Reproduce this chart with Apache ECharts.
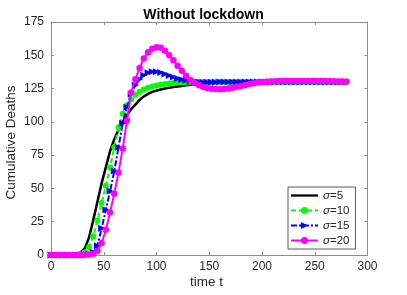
<!DOCTYPE html>
<html>
<head>
<meta charset="utf-8">
<script src="https://cdn.jsdelivr.net/npm/echarts@6/dist/echarts.min.js"></script>
<style>html,body{margin:0;padding:0;background:#fff}#c{width:407px;height:295px}</style>
</head>
<body>
<div id="c"></div>
<script>
// time points
var T = [0,4,8,12,16,20,24,28,32,36,40,44,48,52,56,60,64,68,72,76,80,84,88,92,96,100,104,108,112,116,120,124,128,132,136,140,144,148,152,156,160,164,168,172,176,180,184,188,192,196,200,204,208,212,216,220,224,228,232,236,240,244,248,252,256,260,264,268,272,276,280];
var seriesNames = ['σ=5','σ=10','σ=15','σ=20'];
var sigma5 = [0,0,0,0,0.1,0.3,0.8,2,5,13,26,40,54,66,78,87,94,100,105,109.5,113,116.5,119,121,122.5,123.5,124.3,125,125.6,126.1,126.6,127,127.4,127.8,128.1,128.4,128.7,128.9,129.1,129.3,129.4,129.5,129.6,129.7,129.8,129.8,129.9,129.9,130,130,130,130,130,130,130,130,130,130,130,130,130,130,130,130,130,130,130,130,130,130,130];
var sigma10 = [0,0,0,0,0,0,0,0.5,2,6,14,26,39,52,66,81,96,106,112.5,117,120.3,122.6,124.3,125.6,126.6,127.4,128,128.5,128.9,129.2,129.5,129.7,129.9,130,130,130,130,130,130,130,130,130,130,130,130,130,130,130,130,130,130,130,130,130,130,130,130,130,130,130,130,130,130,130,130,130,130,130,130,130,130];
var sigma15 = [0,0,0,0,0,0,0,0,0,0.5,2,7,20,34,48,63,81,99,111,121,127.5,132,135,136.8,137.6,137.6,137,136,134.8,133.6,132.6,131.8,131.2,130.7,130.3,130,129.8,129.7,129.7,129.8,129.9,130,130,130,130,130,130,130,130,130,130,130,130,130,130,130,130,130,130,130,130,130,130,130,130,130,130,130,130,130,130];
var sigma20 = [0,0,0,0,0,0,0,0,0,0.3,1,3,9,19,32,46,62,80,101,122,132,140.5,147.5,152.3,155,156,155.6,153.5,150,146.2,142.2,138.3,134.6,131.5,129.2,127.6,126.4,125.5,124.9,124.6,124.5,124.6,125,125.6,126.3,127,127.7,128.4,129,129.5,129.9,130.2,130.4,130.5,130.6,130.6,130.6,130.6,130.6,130.6,130.6,130.6,130.6,130.6,130.6,130.6,130.5,130.5,130.4,130.4,130.3];
var xTicks = [0,50,100,150,200,250,300];
var yTicks = [0,25,50,75,100,125,150,175];

function pairs(v){ return T.map(function(t,i){ return [t, v[i]]; }); }

var FONT = "'Liberation Sans', Arial, Helvetica, sans-serif";
var AX = '#8c8c8c', TXT = '#262626';

var chart = echarts.init(document.getElementById('c'), null, {renderer:'canvas'});
function baseX(pos, show){
  return {type:'value', position:pos, min:xTicks[0], max:xTicks[xTicks.length-1], interval:50,
    axisLine:{show:true, onZero:false, lineStyle:{color:AX, width:1}},
    axisTick:{show:true, inside:true, length:3, lineStyle:{color:AX}},
    axisLabel:{show:show, color:TXT, fontSize:12, fontFamily:FONT, margin:6},
    splitLine:{show:false}};
}
function baseY(pos, show){
  return {type:'value', position:pos, min:yTicks[0], max:yTicks[yTicks.length-1], interval:25,
    axisLine:{show:true, onZero:false, lineStyle:{color:AX, width:1}},
    axisTick:{show:true, inside:true, length:3, lineStyle:{color:AX}},
    axisLabel:{show:show, color:TXT, fontSize:12, fontFamily:FONT, margin:7},
    splitLine:{show:false}};
}
var rich = {i:{fontStyle:'italic', fontSize:11.5, fontFamily:FONT, color:TXT}, n:{fontSize:11.5, fontFamily:FONT, color:TXT}};
chart.setOption({
  animation:false,
  backgroundColor:'#fff',
  title:{text:'Without lockdown', left:198.5, top:3, textAlign:'center',
    textStyle:{fontSize:14, fontWeight:'bold', color:'#000', fontFamily:FONT}},
  grid:{left:51, right:39.5, top:22, bottom:40, containLabel:false},
  xAxis:[baseX('bottom', true), baseX('top', false)],
  yAxis:[baseY('left', true), baseY('right', false)],
  legend:{orient:'vertical', left:288, top:187,
    backgroundColor:'#fff', borderColor:'#333', borderWidth:0.8, borderRadius:0,
    padding:[2,6,2,2], itemWidth:27, itemHeight:9, itemGap:2,
    textStyle:{fontSize:11.5, fontFamily:FONT, color:TXT, lineHeight:13, rich:rich},
    formatter:function(n){ return '{i|σ}{n|' + n.slice(1) + '}'; },
    data:[{name:seriesNames[0], icon:'path://M0,0H30V2.5H0Z'}, seriesNames[1], seriesNames[2], seriesNames[3]]},
  graphic:[
    {type:'text', x:11, y:142.5, rotation:Math.PI/2,
      style:{text:'Cumulative Deaths', fill:TXT, font:'13.5px ' + FONT, align:'center', verticalAlign:'middle'}},
    {type:'text', x:206.5, y:282,
      style:{text:'time t', fill:TXT, font:'13.5px ' + FONT, align:'center', verticalAlign:'middle'}}
  ],
  series:[
    {name:seriesNames[0], type:'line', data:pairs(sigma5), showSymbol:false, symbol:'none',
      lineStyle:{color:'#000', width:2.5}, itemStyle:{color:'#000'}, z:2},
    {name:seriesNames[1], type:'line', data:pairs(sigma10), symbol:'circle', symbolSize:6, showAllSymbol:true,
      lineStyle:{color:'#00ff00', width:2, type:[5,3]}, itemStyle:{color:'#00ff00'}, z:3},
    {name:seriesNames[2], type:'line', data:pairs(sigma15), symbol:'triangle', symbolRotate:-90, symbolSize:7, showAllSymbol:true,
      lineStyle:{color:'#0000ff', width:2, type:[6,2,2,2]}, itemStyle:{color:'#0000ff'}, z:4},
    {name:seriesNames[3], type:'line', data:pairs(sigma20), symbol:'circle', symbolSize:6.5, showAllSymbol:true,
      lineStyle:{color:'#ff00ff', width:2}, itemStyle:{color:'#ff00ff'}, z:5}
  ]
});
</script>
</body>
</html>
